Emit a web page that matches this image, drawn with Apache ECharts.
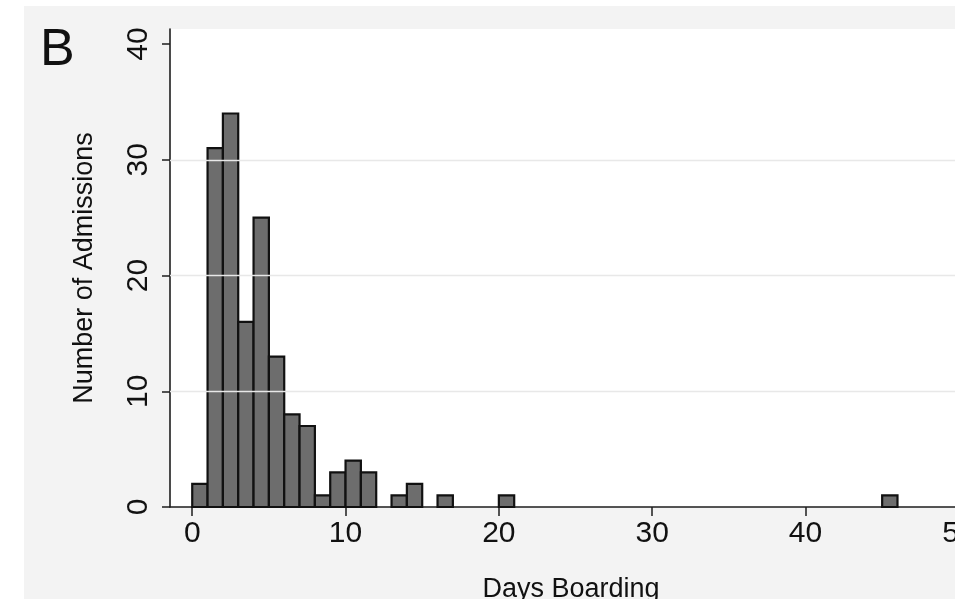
<!DOCTYPE html>
<html>
<head>
<meta charset="utf-8">
<script src="https://cdn.jsdelivr.net/npm/echarts@6/dist/echarts.min.js"></script>
<style>
  html, body { margin: 0; padding: 0; background: #ffffff; overflow: hidden; width: 955px; height: 599px; }
  #chart { position: absolute; left: 24px; top: 6px; width: 976px; height: 593px; background: #f3f3f3; }
</style>
</head>
<body>
<div id="chart"></div>
<script>
// Histogram bins (left edges, days) and counts
const binStarts = [0, 1, 2, 3, 4, 5, 6, 7, 8, 9, 10, 11, 13, 14, 16, 20, 45];
const counts    = [2, 31, 34, 16, 25, 13, 8, 7, 1, 3, 4, 3, 1, 2, 1, 1, 1];
const binWidth = 1;
const xTickValues = [0, 10, 20, 30, 40, 50];
const yTickValues = [0, 10, 20, 30, 40];
const gridValues = [10, 20, 30];

const panelLabel = 'B';
const xTitle = 'Days Boarding';
const yTitle = 'Number of Admissions';

const font = "'Liberation Sans', Arial, Helvetica, sans-serif";
const data = binStarts.map((s, i) => [s, s + binWidth, counts[i]]);

const chart = echarts.init(document.getElementById('chart'), null, { renderer: 'canvas' });
chart.setOption({
  animation: false,
  backgroundColor: '#f3f3f3',
  title: {
    text: panelLabel, left: 11, top: 14,
    textStyle: { fontFamily: font, fontSize: 52, fontWeight: 'normal', color: '#111' }
  },
  grid: {
    left: 146, top: 23, width: 802, height: 478,
    outerBoundsMode: 'none', containLabel: false,
    show: true, backgroundColor: '#ffffff', borderWidth: 0
  },
  xAxis: {
    type: 'value', min: -1.45, max: 50.86,
    name: xTitle, nameLocation: 'middle', nameGap: 69,
    nameTextStyle: { fontFamily: font, fontSize: 27, color: '#111' },
    axisLine: { show: true, onZero: false, lineStyle: { color: '#1e1e1e', width: 1.6 } },
    axisTick: { show: true, length: 9, customValues: xTickValues, lineStyle: { color: '#1e1e1e', width: 1.5 } },
    axisLabel: { customValues: xTickValues, margin: 12, fontFamily: font, fontSize: 30, color: '#111' },
    splitLine: { show: false }
  },
  yAxis: {
    type: 'value', min: 0, max: 41.3,
    name: yTitle, nameLocation: 'middle', nameGap: 72, nameRotate: 90,
    nameTextStyle: { fontFamily: font, fontSize: 27, color: '#111' },
    axisLine: { show: true, onZero: false, lineStyle: { color: '#1e1e1e', width: 1.6 } },
    axisTick: { show: true, length: 8, customValues: yTickValues, lineStyle: { color: '#1e1e1e', width: 1.5 } },
    axisLabel: { customValues: yTickValues, rotate: 90, margin: 16, fontFamily: font, fontSize: 30, color: '#111' },
    splitLine: { show: false }
  },
  series: [{
    type: 'custom',
    data: data,
    encode: { x: [0, 1], y: 2 },
    renderItem: function (params, api) {
      const p0 = api.coord([api.value(0), 0]);
      const p1 = api.coord([api.value(1), api.value(2)]);
      return {
        type: 'rect',
        shape: { x: p0[0], y: p1[1], width: p1[0] - p0[0], height: p0[1] - p1[1] },
        style: { fill: '#6d6d6d', stroke: '#111111', lineWidth: 2.2 }
      };
    },
    markLine: {
      silent: true, symbol: 'none', label: { show: false },
      lineStyle: { color: '#e8e8e8', width: 1.3, type: 'solid' },
      data: gridValues.map(v => ({ yAxis: v }))
    },
    z: 3
  }]
});
</script>
</body>
</html>
